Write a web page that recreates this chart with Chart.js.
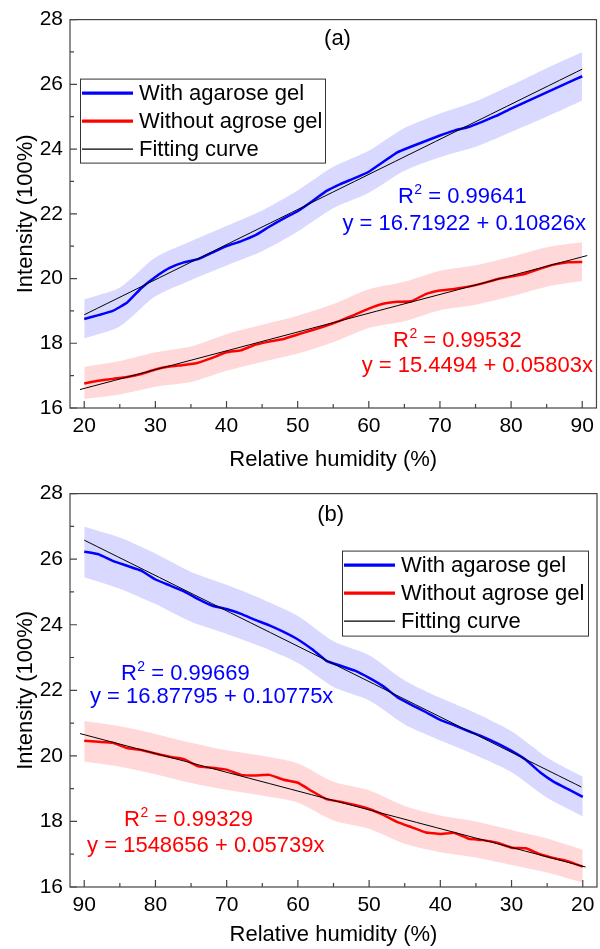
<!DOCTYPE html>
<html>
<head>
<meta charset="utf-8">
<script src="https://cdn.jsdelivr.net/npm/chart.js@4.4.1/dist/chart.umd.min.js"></script>
<style>
  body { margin: 0; background: #fff; }
  canvas { position: absolute; left: 0; }
</style>
</head>
<body>
<canvas id="chartA" width="600" height="474" style="top:0"></canvas>
<canvas id="chartB" width="600" height="475" style="top:474px"></canvas>
<script>
// relative humidity sample points (%)
const rh = [20,22,24,26,28,30,32,34,36,38,40,42,44,46,48,50,52,54,56,58,60,62,64,66,68,70,72,74,76,78,80,82,84,86,88,90];
const rhBand = [20,25,30,35,40,45,50,55,60,65,70,75,80,85,90];

// panel (a) - rising humidity
const gelA   = [18.75,18.87,19.0,19.25,19.7,20.05,20.33,20.5,20.6,20.8,21.0,21.15,21.33,21.6,21.85,22.08,22.38,22.7,22.92,23.1,23.3,23.6,23.9,24.08,24.25,24.42,24.57,24.68,24.85,25.03,25.25,25.45,25.65,25.85,26.05,26.25];
const noGelA = [16.76,16.84,16.9,16.96,17.05,17.19,17.28,17.33,17.4,17.55,17.72,17.78,17.95,18.05,18.13,18.27,18.4,18.54,18.7,18.88,19.07,19.22,19.28,19.3,19.52,19.63,19.68,19.75,19.85,19.98,20.06,20.15,20.3,20.43,20.5,20.51];
const gelA_hi   = [19.35,19.72,20.65,21.15,21.62,22.1,22.72,23.45,23.95,24.65,25.1,25.47,25.97,26.5,27.0];
const gelA_lo   = [18.15,18.52,19.45,19.95,20.4,20.84,21.45,22.17,22.65,23.33,23.75,24.07,24.53,25.0,25.5];
const noGelA_hi = [17.27,17.45,17.72,17.9,18.28,18.57,18.85,19.21,19.67,19.9,20.24,20.41,20.67,20.97,21.12];
const noGelA_lo = [16.28,16.42,16.66,16.8,17.15,17.42,17.68,18.03,18.47,18.68,19.02,19.19,19.45,19.75,19.92];
const fitA_gel_x = [20, 90],     fitA_gel_y = [18.88, 26.47];
const fitA_no_x  = [19.4, 90.7], fitA_no_y  = [16.57, 20.71];

// panel (b) - falling humidity
const gelB   = [18.75,18.98,19.2,19.5,19.88,20.15,20.38,20.58,20.75,20.93,21.1,21.33,21.55,21.78,22.12,22.38,22.6,22.75,22.9,23.25,23.55,23.78,23.98,24.15,24.33,24.48,24.58,24.78,25.02,25.2,25.38,25.65,25.8,25.95,26.15,26.23];
const noGelB = [16.62,16.78,16.88,17.0,17.18,17.2,17.35,17.43,17.47,17.65,17.62,17.66,17.82,17.98,18.2,18.38,18.5,18.6,18.68,18.92,19.18,19.27,19.42,19.4,19.42,19.58,19.64,19.68,19.9,19.97,20.07,20.18,20.24,20.4,20.43,20.46];
const gelB_hi   = [19.36,19.95,20.75,21.3,21.77,22.3,23.07,23.5,24.27,24.78,25.22,25.61,26.17,26.66,26.99];
const gelB_lo   = [18.15,18.72,19.5,20.02,20.47,20.96,21.69,22.1,22.83,23.32,23.72,24.09,24.63,25.1,25.45];
const noGelB_hi = [17.14,17.48,17.74,18.0,18.18,18.47,18.95,19.21,19.77,20.0,20.17,20.4,20.67,20.9,21.06];
const noGelB_lo = [16.13,16.44,16.67,16.9,17.06,17.32,17.78,18.03,18.57,18.79,18.96,19.17,19.44,19.67,19.83];
const fitB_gel_x = [90, 20.2],   fitB_gel_y = [26.58, 19.05];
const fitB_no_x  = [90.6, 19.6], fitB_no_y  = [20.68, 16.61];

// axis ticks
const xTicks = [20,30,40,50,60,70,80,90];
const xMinor = [25,35,45,55,65,75,85];
const yTicks = [16,18,20,22,24,26,28];
const yMinor = [17,19,21,23,25,27];

const FONT = "'Liberation Sans', Arial, Helvetica, sans-serif";
Chart.defaults.font.family = FONT;
Chart.defaults.color = '#000';

const pts = (xs, ys) => xs.map((x, i) => ({x, y: ys[i]}));

// frame round the plot + inward tick marks
const frameTicks = {
  id: 'frameTicks',
  afterDatasetsDraw(chart) {
    const {ctx, chartArea: a, scales: {x, y}} = chart;
    ctx.save();
    ctx.strokeStyle = '#444';
    ctx.lineWidth = 1.2;
    ctx.strokeRect(a.left, a.top, a.right - a.left, a.bottom - a.top);
    ctx.beginPath();
    const xt = (v, len) => { const p = x.getPixelForValue(v); ctx.moveTo(p, a.bottom); ctx.lineTo(p, a.bottom - len); };
    const yt = (v, len) => { const p = y.getPixelForValue(v); ctx.moveTo(a.left, p); ctx.lineTo(a.left + len, p); };
    xTicks.forEach(v => xt(v, 7));
    xMinor.forEach(v => xt(v, 4));
    yTicks.forEach(v => yt(v, 7));
    yMinor.forEach(v => yt(v, 4));
    ctx.stroke();
    ctx.restore();
  }
};

// boxed legend inside the plot
const boxLegend = {
  id: 'boxLegend',
  afterDraw(chart, args, opts) {
    const {ctx, chartArea: a} = chart;
    const items = chart.data.datasets.filter(d => d.legendRow != null).sort((p, q) => p.legendRow - q.legendRow);
    const bx = a.left + opts.left, by = a.top + opts.top;
    ctx.save();
    ctx.fillStyle = '#fff';
    ctx.fillRect(bx, by, opts.width, opts.height);
    ctx.strokeStyle = '#333';
    ctx.lineWidth = 1;
    ctx.strokeRect(bx + 0.5, by + 0.5, opts.width, opts.height);
    ctx.font = '22px ' + FONT;
    ctx.textBaseline = 'middle';
    ctx.textAlign = 'left';
    items.forEach((d, i) => {
      const cy = by + 14.5 + i * 28;
      ctx.strokeStyle = d.borderColor;
      ctx.lineWidth = d.borderWidth > 2 ? 3.2 : 1.3;
      ctx.beginPath();
      ctx.moveTo(bx + 2, cy);
      ctx.lineTo(bx + 53, cy);
      ctx.stroke();
      ctx.fillStyle = '#000';
      ctx.fillText(d.label, bx + 59, cy + 1);
    });
    ctx.restore();
  }
};

// panel label and fit equations, placed in data coordinates
const notes = {
  id: 'notes',
  afterDraw(chart, args, opts) {
    const {ctx, scales: {x, y}} = chart;
    ctx.save();
    ctx.textBaseline = 'alphabetic';
    opts.items.forEach(n => {
      let px = x.getPixelForValue(n.x);
      const py = y.getPixelForValue(n.y);
      ctx.fillStyle = n.color || '#000';
      ctx.font = '22px ' + FONT;
      if (n.center) {
        ctx.textAlign = 'center';
        ctx.textBaseline = 'middle';
        ctx.fillText(n.text, px, py);
        ctx.textBaseline = 'alphabetic';
        return;
      }
      ctx.textAlign = 'left';
      if (n.r2) {
        ctx.fillText('R', px, py);
        px += ctx.measureText('R').width;
        ctx.font = '14px ' + FONT;
        ctx.fillText('2', px + 0.5, py - 9);
        px += ctx.measureText('2').width + 0.5;
        ctx.font = '22px ' + FONT;
        ctx.fillText(' = ' + n.text, px, py);
      } else {
        ctx.fillText(n.text, px, py);
      }
    });
    ctx.restore();
  }
};

function makePanel(id, d) {
  const blueBand = 'rgba(0,0,255,0.15)';
  const redBand = 'rgba(255,0,0,0.15)';
  const datasets = [
    { label: 'Fitting curve', data: pts(d.fitGel[0], d.fitGel[1]), borderColor: '#000', borderWidth: 1, legendRow: 2, order: 1 },
    { label: 'fit2', data: pts(d.fitNo[0], d.fitNo[1]), borderColor: '#000', borderWidth: 1, order: 1 },
    { label: 'With agarose gel', data: pts(rh, d.gel), borderColor: '#0000ff', borderWidth: 2.5, legendRow: 0, order: 2 },
    { label: 'Without agrose gel', data: pts(rh, d.noGel), borderColor: '#ff0000', borderWidth: 2.5, legendRow: 1, order: 2 },
    { label: 'gelHi', data: pts(rhBand, d.gelHi), borderWidth: 0, borderColor: 'transparent', fill: false, order: 5 },
    { label: 'gelLo', data: pts(rhBand, d.gelLo), borderWidth: 0, borderColor: 'transparent', backgroundColor: blueBand, fill: '-1', order: 5 },
    { label: 'noHi', data: pts(rhBand, d.noHi), borderWidth: 0, borderColor: 'transparent', fill: false, order: 5 },
    { label: 'noLo', data: pts(rhBand, d.noLo), borderWidth: 0, borderColor: 'transparent', backgroundColor: redBand, fill: '-1', order: 5 }
  ];
  datasets.forEach(ds => { ds.pointRadius = 0; ds.tension = ds.order === 5 ? 0.25 : 0.1; });

  return new Chart(document.getElementById(id), {
    type: 'line',
    data: { datasets },
    options: {
      responsive: false,
      animation: false,
      devicePixelRatio: 1,
      layout: { padding: { top: d.padTop, right: 3, bottom: 0, left: 0 } },
      scales: {
        x: {
          type: 'linear', min: 18, max: 92, reverse: d.reverse,
          afterBuildTicks: s => { s.ticks = xTicks.map(v => ({value: v})); },
          afterFit: s => { s.height = d.xHeight; },
          grid: { display: false, drawTicks: false },
          border: { display: false },
          ticks: { font: { size: 21 }, color: '#000', padding: 6, maxRotation: 0 },
          title: { display: true, text: 'Relative humidity (%)', font: { size: 22 }, color: '#000', padding: { top: 1, bottom: 1 } }
        },
        y: {
          min: 16, max: 28,
          afterBuildTicks: s => { s.ticks = yTicks.map(v => ({value: v})); },
          afterFit: s => { s.width = 70; },
          grid: { display: false, drawTicks: false },
          border: { display: false },
          ticks: { font: { size: 21 }, color: '#000', padding: 7 },
          title: { display: true, text: 'Intensity (100%)', font: { size: 22 }, color: '#000', padding: { top: 13, bottom: 13 } }
        }
      },
      plugins: {
        legend: { display: false },
        tooltip: { enabled: false },
        boxLegend: d.legend,
        notes: { items: d.notes }
      }
    },
    plugins: [frameTicks, boxLegend, notes]
  });
}

makePanel('chartA', {
  gel: gelA, noGel: noGelA, gelHi: gelA_hi, gelLo: gelA_lo, noHi: noGelA_hi, noLo: noGelA_lo,
  fitGel: [fitA_gel_x, fitA_gel_y], fitNo: [fitA_no_x, fitA_no_y],
  reverse: false, padTop: 16, xHeight: 66,
  legend: { left: 10, top: 59, width: 245, height: 84 },
  notes: [
    { x: 55.6, y: 27.39, text: '(a)', center: true },
    { x: 64.1, y: 22.32, text: '0.99641', r2: true, color: '#0000ff' },
    { x: 56.3, y: 21.5, text: 'y = 16.71922 + 0.10826x', color: '#0000ff' },
    { x: 63.4, y: 17.87, text: '0.99532', r2: true, color: '#ff0000' },
    { x: 59.0, y: 17.1, text: 'y = 15.4494 + 0.05803x', color: '#ff0000' }
  ]
});

makePanel('chartB', {
  gel: gelB, noGel: noGelB, gelHi: gelB_hi, gelLo: gelB_lo, noHi: noGelB_hi, noLo: noGelB_lo,
  fitGel: [fitB_gel_x, fitB_gel_y], fitNo: [fitB_no_x, fitB_no_y],
  reverse: true, padTop: 19, xHeight: 62,
  legend: { left: 272, top: 57, width: 246, height: 85 },
  notes: [
    { x: 55.4, y: 27.36, text: '(b)', center: true },
    { x: 84.85, y: 22.3, text: '0.99669', r2: true, color: '#0000ff' },
    { x: 89.2, y: 21.61, text: 'y = 16.87795 + 0.10775x', color: '#0000ff' },
    { x: 84.4, y: 17.86, text: '0.99329', r2: true, color: '#ff0000' },
    { x: 89.6, y: 17.07, text: 'y = 1548656 + 0.05739x', color: '#ff0000' }
  ]
});
</script>
</body>
</html>
